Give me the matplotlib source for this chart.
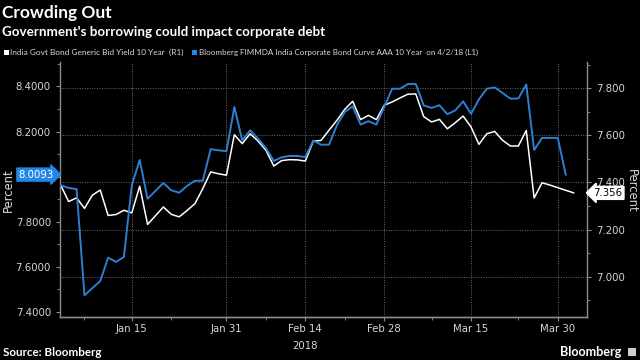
import matplotlib
matplotlib.use("Agg")
import matplotlib.pyplot as plt
from matplotlib import font_manager as fm
import pandas as pd
import numpy as np

# ---------------- data ----------------
dates = pd.bdate_range("2018-01-02", "2018-04-03")

corp_aaa = [7.962, 7.950, 7.945, 7.474, 7.506, 7.537, 7.641, 7.622, 7.644, 7.962,
            8.074, 7.902, 7.937, 7.972, 7.940, 7.929, 7.959, 7.982, 7.982, 8.122,
            8.117, 8.113, 8.309, 8.161, 8.206, 8.169, 8.127, 8.070, 8.086, 8.092,
            8.092, 8.087, 8.160, 8.142, 8.142, 8.228, 8.287, 8.312, 8.231, 8.246,
            8.231, 8.309, 8.390, 8.390, 8.411, 8.411, 8.316, 8.305, 8.317, 8.277,
            8.294, 8.334, 8.279, 8.343, 8.390, 8.396, 8.371, 8.346, 8.347, 8.409,
            8.118, 8.172, 8.172, 8.172, 8.0093]

govt_10y = [7.388, 7.319, 7.335, 7.290, 7.346, 7.368, 7.260, 7.264, 7.282, 7.271,
            7.384, 7.222, 7.259, 7.296, 7.265, 7.254, 7.281, 7.310, 7.374, 7.445,
            7.437, 7.431, 7.603, 7.565, 7.607, 7.576, 7.537, 7.470, 7.493, 7.497,
            7.496, 7.491, 7.575, 7.579, 7.622, 7.664, 7.711, 7.745, 7.667, 7.685,
            7.667, 7.728, 7.742, 7.759, 7.775, 7.776, 7.680, 7.657, 7.668, 7.628,
            7.654, 7.682, 7.636, 7.562, 7.607, 7.617, 7.579, 7.555, 7.555, 7.621,
            7.334, 7.399, 7.389, 7.378, 7.367, 7.356]

major_dates = ["2018-01-15", "2018-01-31", "2018-02-14", "2018-02-28", "2018-03-15", "2018-03-30"]
major_labels = ["Jan 15", "Jan 31", "Feb 14", "Feb 28", "Mar 15", "Mar 30"]
minor_dates = ["2018-01-05", "2018-01-22", "2018-02-07", "2018-02-21", "2018-03-08", "2018-03-23"]

left_ticks = [7.4, 7.6, 7.8, 8.0, 8.2, 8.4]
left_hidden = [8.0]          # label covered by the last-value marker
right_ticks = [7.0, 7.2, 7.4, 7.6, 7.8]

title = "Crowding Out"
subtitle = "Government's borrowing could impact corporate debt"
govt_label = "India Govt Bond Generic Bid Yield 10 Year  (R1)"
corp_label = "Bloomberg FIMMDA India Corporate Bond Curve AAA 10 Year  on 4/2/18 (L1)"

# ---------------- style ----------------
BG = "black"
BLUE = "#2d7fd2"
MARK_BLUE = "#2188e8"
TXT = "#d8d8d8"
SPINE = "#8c8c8c"
GRID = "#6a6a6a"

plt.rcParams["font.family"] = ["DejaVu Sans"]

LATO = dict(family=["Lato", "Liberation Sans", "DejaVu Sans"])
BOLD = dict(family=["Lato", "Liberation Sans", "DejaVu Sans"], fontweight="bold")

fig = plt.figure(figsize=(6.4, 3.6), dpi=100, facecolor=BG)
W, H = 640, 360
renderer = fig.canvas.get_renderer()


def fit_text(x_px, y_px, s, width_px, size0, **kw):
    t = fig.text(x_px / W, 1 - y_px / H, s, fontsize=size0, **kw)
    w = t.get_window_extent(renderer).width
    if w > 0:
        t.set_fontsize(size0 * width_px / w)
    return t


axL = fig.add_axes([60 / W, 43 / H, 527 / W, 255 / H])
axR = axL.twinx()
axR.set_zorder(axL.get_zorder() - 1)
axL.patch.set_visible(False)
axR.set_facecolor(BG)

x_idx = np.arange(len(dates))
pos = {d: i for i, d in enumerate(dates)}

axR.plot(x_idx[:len(govt_10y)], govt_10y, color="white", lw=1.1, zorder=3)
axL.plot(x_idx[:len(corp_aaa)], corp_aaa, color=BLUE, lw=1.4, zorder=3)

axL.set_xlim(-0.1, 66.7)
axL.set_ylim(7.3778, 8.5086)
axR.set_ylim(6.8288, 7.9117)

maj = [pos[pd.Timestamp(d)] for d in major_dates]
mnr = [pos[pd.Timestamp(d)] for d in minor_dates]
axL.set_xticks(maj)
axL.set_xticklabels(major_labels)
axL.set_xticks(mnr, minor=True)

axL.set_yticks(left_ticks)
axL.set_yticklabels(["" if v in left_hidden else f"{v:.4f}" for v in left_ticks])
axL.set_yticks(np.arange(7.4, 8.51, 0.1), minor=True)
axR.set_yticks(right_ticks)
axR.set_yticklabels([f"{v:.3f}" for v in right_ticks])
axR.set_yticks(np.arange(6.9, 7.91, 0.1), minor=True)

axR.grid(axis="y", color=GRID, ls=(0, (1, 1.5)), lw=0.7)
for xm in maj:
    axR.axvline(xm, color=GRID, ls=(0, (1, 1.5)), lw=0.7, zorder=1)

for a in (axL, axR):
    a.spines["top"].set_visible(False)
    for s in ("left", "right", "bottom"):
        a.spines[s].set_color(SPINE)
        a.spines[s].set_linewidth(1.0)
    a.tick_params(which="both", colors=SPINE, labelcolor=TXT, labelsize=7.3, direction="out")
    a.tick_params(which="major", length=3)
    a.tick_params(which="minor", length=2)
axL.tick_params(axis="x", pad=2)
axL.spines["right"].set_visible(False)
axR.spines["left"].set_visible(False)

axL.set_ylabel("Percent", color=TXT, fontsize=8.3, va="center", ha="center")
axL.yaxis.set_label_coords(-0.0987, 0.498)
axR.set_ylabel("Percent", color=TXT, fontsize=8.3, rotation=270, va="center", ha="center")
axR.yaxis.set_label_coords(1.0848, 0.494)

axL.text(pos[pd.Timestamp("2018-02-14")], -0.095, "2018", transform=axL.get_xaxis_transform(),
         ha="center", va="top", color=TXT, fontsize=7.3)

# last-value markers
tL = axL.get_yaxis_transform()
axL.text(-0.012, corp_aaa[-1], f"{corp_aaa[-1]:.4f}", transform=tL, ha="right", va="center",
         color="white", fontsize=7.3, zorder=10, clip_on=False,
         bbox=dict(boxstyle="rarrow,pad=0.15", fc=MARK_BLUE, ec=MARK_BLUE))
tR = axR.get_yaxis_transform()
axR.text(1.012, govt_10y[-1], f"{govt_10y[-1]:.3f}", transform=tR, ha="left", va="center",
         color="black", fontsize=7.3, zorder=10, clip_on=False,
         bbox=dict(boxstyle="larrow,pad=0.15", fc="white", ec="white"))

# titles
fit_text(2, 13, title, 110, 13, color="white", ha="left", va="center", **BOLD)
fit_text(2, 32, subtitle, 321, 9, color="white", ha="left", va="center", **BOLD)

# legend
fig.patches.append(plt.Rectangle((4 / W, 1 - 55 / H), 5 / W, 5 / H, transform=fig.transFigure,
                                 fc="white", ec="none"))
fit_text(10.5, 52.7, govt_label, 173, 7.2, color=TXT, ha="left", va="center", **LATO)
fig.patches.append(plt.Rectangle((192 / W, 1 - 55 / H), 5 / W, 5 / H, transform=fig.transFigure,
                                 fc=MARK_BLUE, ec="none"))
fit_text(199, 52.7, corp_label, 277, 7.2, color=TXT, ha="left", va="center", **LATO)

# footer
fit_text(3, 352, "Source: Bloomberg", 99, 7.5, color="white", ha="left", va="center", **BOLD)
fit_text(560, 352, "Bloomberg", 62, 9.5, color="white", ha="left", va="center", **BOLD)
fig.patches.append(plt.Rectangle((628 / W, 1 - 356 / H), 8 / W, 8 / H, transform=fig.transFigure,
                                 fc="#cfcfcf", ec="none"))

fig.savefig("out.png", dpi=100, facecolor=BG)
